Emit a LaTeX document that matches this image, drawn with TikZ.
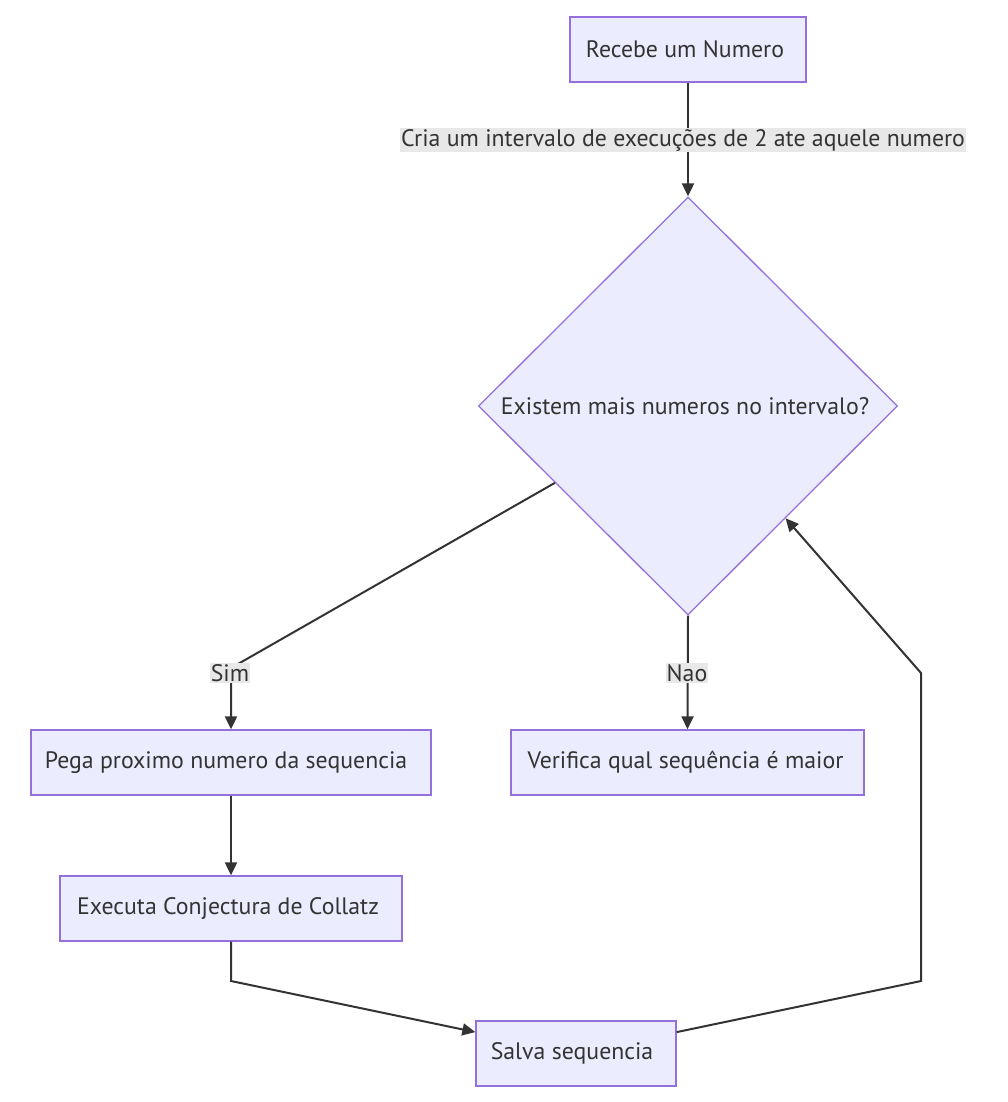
\documentclass[tikz,border=0pt]{standalone}
\usepackage{fontspec}
\setmainfont{PT Sans}
\usetikzlibrary{shapes.geometric,arrows.meta}
\definecolor{nodefill}{HTML}{ECECFF}
\definecolor{nodeline}{HTML}{9370DB}
\definecolor{edgeline}{HTML}{333333}
\definecolor{labelbg}{HTML}{E8E8E8}
\newcommand{\dfont}{\fontsize{23.8}{28}\selectfont}
\begin{document}
\begin{tikzpicture}[x=1pt,y=-1pt,
  box/.style={draw=nodeline, fill=nodefill, line width=1.3pt, minimum height=65pt, inner sep=0pt, font=\dfont, text=edgeline},
  decision/.style={diamond, draw=nodeline, fill=nodefill, line width=1.3pt, minimum width=419pt, minimum height=418pt, inner sep=0pt, font=\dfont, text=edgeline},
  conn/.style={draw=edgeline, line width=2pt, -{Triangle[length=13pt,width=12pt]}},
  elabel/.style={fill=labelbg, inner sep=1pt, font=\dfont, text=edgeline}]
\useasboundingbox (0,0) rectangle (1008,1102);
% nodes
\node[box, minimum width=236pt] (A) at (688,49.5) {Recebe um Numero\hspace*{6pt}};
\node[decision] (Q) at (688,406) {Existem mais numeros no intervalo?\hspace*{6pt}};
\node[box, minimum width=400pt] (B) at (231,762.5) {Pega proximo numero da sequencia\hspace*{10pt}};
\node[box, minimum width=353pt] (C) at (687.5,762.5) {Verifica qual sequência é maior\hspace*{4pt}};
\node[box, minimum width=342pt] (D) at (231,908.5) {Executa Conjectura de Collatz\hspace*{6pt}};
\node[box, minimum width=200pt] (E) at (576,1053.5) {Salva sequencia\hspace*{8pt}};
% bend coordinates
\coordinate (s1) at (231,668);
\coordinate (d1) at (231,981);
\coordinate (e1) at (921,981);
\coordinate (e2) at (921,673);
% connectors
\draw[conn] (A.south) -- (Q.north);
\node[elabel] (L1) at (683,140) {Cria um intervalo de execuções de 2 ate aquele numero};
\draw[conn] (Q.210.7) -- (s1) -- (B.north);
\node[elabel] (L2) at (230,673) {Sim};
\draw[conn] (Q.south) -- (C.north);
\node[elabel] (L3) at (687,673) {Nao};
\draw[conn] (B.south) -- (D.north);
\draw[conn] (D.south) -- (d1) -- (E.168);
\draw[conn] (E.12) -- (e1) -- (e2) -- (Q.311.5);
\end{tikzpicture}
\end{document}
